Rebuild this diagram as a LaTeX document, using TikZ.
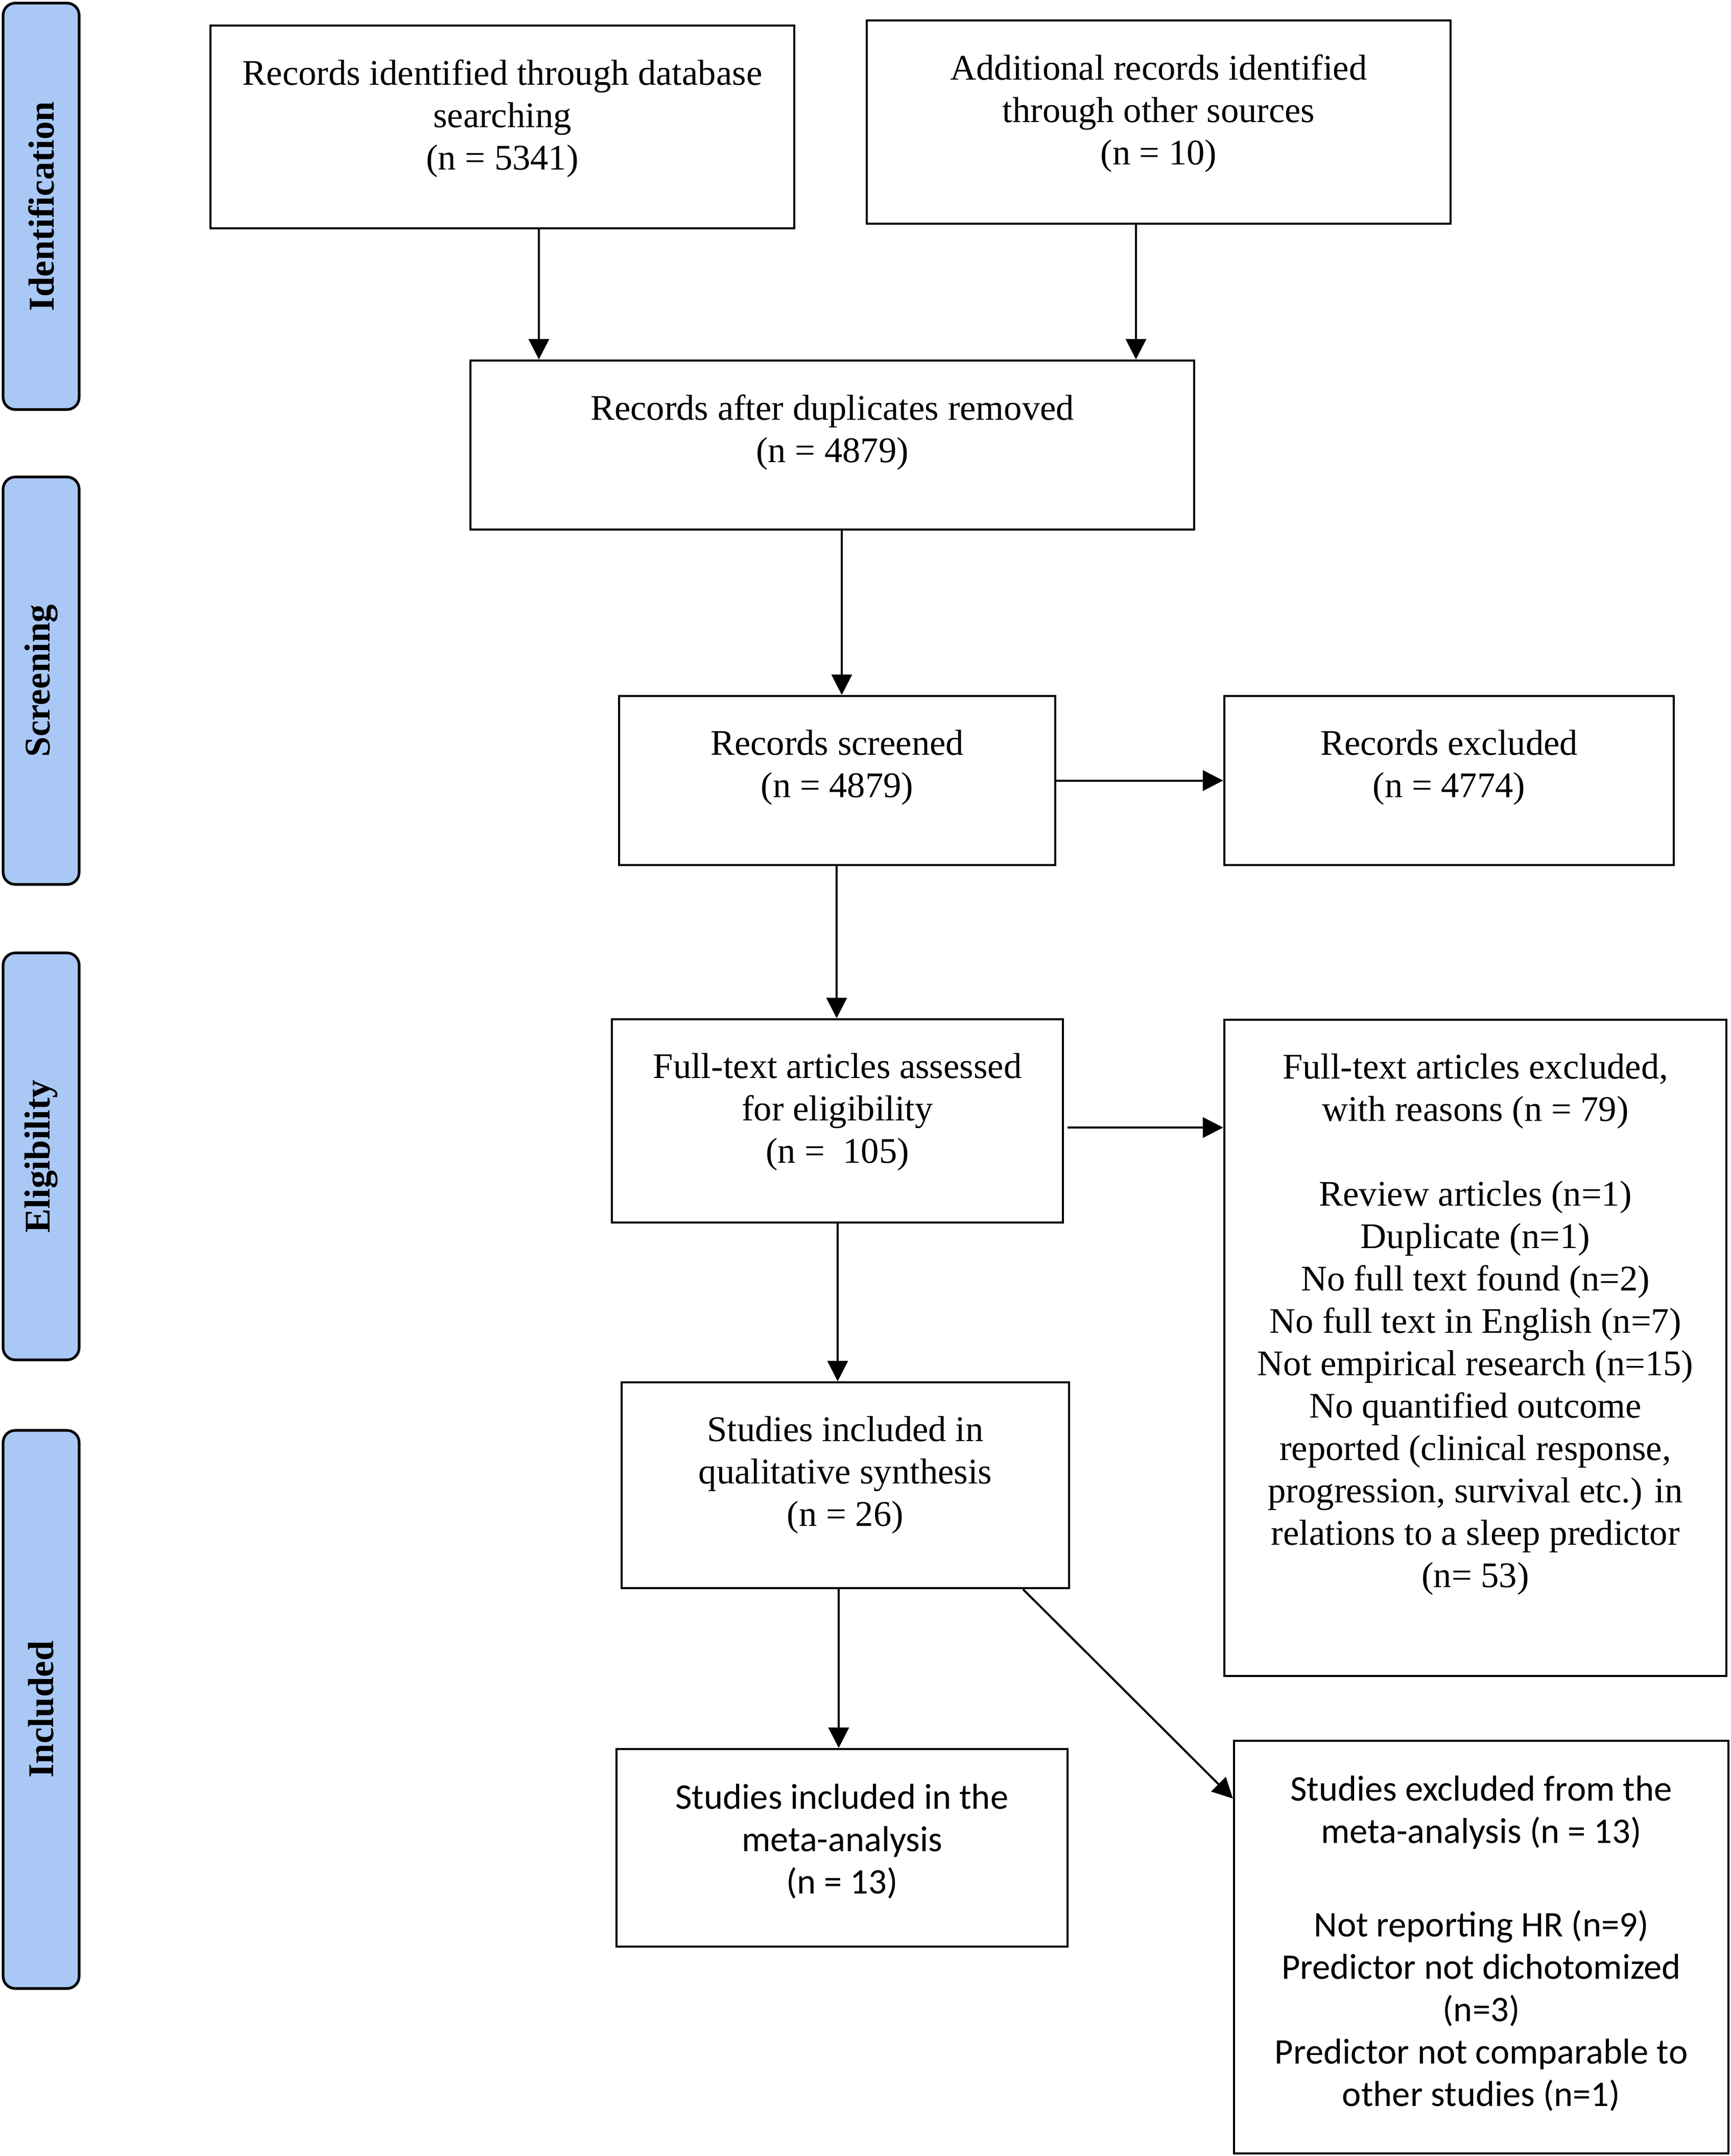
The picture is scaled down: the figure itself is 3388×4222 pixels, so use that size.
\documentclass[tikz,border=0pt]{standalone}
\usepackage{fontspec}
\setmainfont{Liberation Serif}
\newfontfamily\calibri{Carlito}
\usetikzlibrary{arrows.meta,fit}
\definecolor{barblue}{RGB}{170,200,245}
\begin{document}
\begin{tikzpicture}[x=0.25pt,y=-0.25pt,
  box/.style={draw,line width=1.1pt,inner sep=0pt,rectangle},
  txt/.style={anchor=north,align=center,inner sep=0pt,execute at begin node=\strut,
    font=\fontsize{17.65pt}{20.75pt}\selectfont},
  ctxt/.style={txt,font=\calibri\fontsize{17.65pt}{20.75pt}\selectfont},
  bar/.style={draw,line width=1.3pt,fill=barblue,rounded corners=6pt,inner sep=0pt,rectangle},
  barlbl/.style={rotate=90,inner sep=0pt,font=\bfseries\fontsize{17.75pt}{20pt}\selectfont},
  arr/.style={line width=1pt,-{Triangle[length=10pt,width=10pt]}}]
\useasboundingbox (0,0) rectangle (3388,4222);

% side bars
\node[bar, fit={(6,6)(155,802)}] (s1) {};
\node[barlbl] (l1) at (s1.center) {Identification};
\node[bar, fit={(6,934)(155,1732)}] (s2) {};
\node[barlbl] (l2) at (s2.center) {Screening};
\node[bar, fit={(6,1866)(155,2663)}] (s3) {};
\node[barlbl] (l3) at (s3.center) {Eligibility};
\node[bar, fit={(6,2801)(155,3894)}] (s4) {};
\node[barlbl] (l4) at (s4.center) {Included};

% boxes
\node[box, fit={(412,50)(1555,447)}] (b1) {};
\node[txt] (t1) at ([yshift=-17pt]b1.north) {Records identified through database\\searching\\(n = 5341)};

\node[box, fit={(1697,40)(2840,438)}] (b2) {};
\node[txt] (t2) at ([yshift=-17pt]b2.north) {Additional records identified\\through other sources\\(n = 10)};

\node[box, fit={(921,706)(2338,1037)}] (b3) {};
\node[txt] (t3) at ([yshift=-17pt]b3.north) {Records after duplicates removed\\(n = 4879)};

\node[box, fit={(1212,1363)(2066,1694)}] (b4) {};
\node[txt] (t4) at ([yshift=-17pt]b4.north) {Records screened\\(n = 4879)};

\node[box, fit={(2397,1363)(3277,1694)}] (b5) {};
\node[txt] (t5) at ([yshift=-17pt]b5.north) {Records excluded\\(n = 4774)};

\node[box, fit={(1198,1996)(2081,2394)}] (b6) {};
\node[txt] (t6) at ([yshift=-17pt]b6.north) {Full-text articles assessed\\for eligibility\\(n =\ \ 105)};

\node[box, fit={(2397,1997)(3380,3282)}] (b7) {};
\node[txt] (t7) at ([yshift=-17pt]b7.north) {Full-text articles excluded,\\with reasons (n = 79)\\[20.75pt]
Review articles (n=1)\\Duplicate (n=1)\\No full text found (n=2)\\No full text in English (n=7)\\Not empirical research (n=15)\\No quantified outcome\\reported (clinical response,\\progression, survival etc.) in\\relations to a sleep predictor\\(n= 53)};

\node[box, fit={(1217,2707)(2093,3110)}] (b8) {};
\node[txt] (t8) at ([yshift=-17pt]b8.north) {Studies included in\\qualitative synthesis\\(n = 26)};

\node[box, fit={(1207,3425)(2090,3812)}] (b9) {};
\node[ctxt] (t9) at ([yshift=-17.5pt]b9.north) {Studies included in the\\meta-analysis\\(n = 13)};

\node[box, fit={(2416,3409)(3384,4217)}] (b10) {};
\node[ctxt] (t10) at ([yshift=-17.5pt]b10.north) {Studies excluded from the\\meta-analysis (n = 13)\\[25pt]
Not reporting HR (n=9)\\Predictor not dichotomized\\(n=3)\\Predictor not comparable to\\other studies (n=1)};

% connectors
\coordinate (x1) at (1055,0);
\draw[arr] (b1.south -| x1) -- (b3.north -| x1);
\coordinate (x2) at (2224,0);
\draw[arr] (b2.south -| x2) -- (b3.north -| x2);
\coordinate (x3) at (1648,0);
\draw[arr] (b3.south -| x3) -- (b4.north -| x3);
\draw[arr] (b4.east) -- (b5.west);
\coordinate (x4) at (1638,0);
\draw[arr] (b4.south -| x4) -- (b6.north -| x4);
\coordinate (c6) at (2090,2208);
\draw[arr] (c6) -- (b7.west |- c6);
\coordinate (x5) at (1640,0);
\draw[arr] (b6.south -| x5) -- (b8.north -| x5);
\coordinate (x6) at (1642,0);
\draw[arr] (b8.south -| x6) -- (b9.north -| x6);
\coordinate (d1) at (2003,0);
\coordinate (d2) at (0,3522);
\draw[arr] (b8.south -| d1) -- (b10.west |- d2);
\end{tikzpicture}
\end{document}
